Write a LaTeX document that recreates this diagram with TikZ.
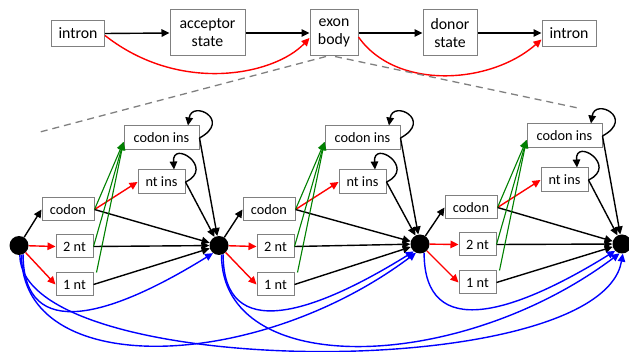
\documentclass[tikz,border=0pt]{standalone}
\usepackage{fontspec}
\setmainfont{Carlito}
\usetikzlibrary{arrows.meta,calc}
\definecolor{boxgray}{HTML}{808080}
\definecolor{dgreen}{HTML}{008000}
\definecolor{pblue}{HTML}{0000FF}
\definecolor{pred}{HTML}{FF0000}
\begin{document}
\begin{tikzpicture}[x=1pt,y=-1pt,
  topbox/.style={draw=boxgray,line width=1pt,fill=white,inner sep=0pt,align=center,
    font=\fontsize{15.8}{18}\selectfont},
  lowbox/.style={draw=boxgray,line width=1pt,fill=white,inner sep=0pt,
    minimum height=23pt,font=\fontsize{14.3}{16}\selectfont},
  dot/.style={circle,fill=black,inner sep=0pt,minimum size=19pt},
  arr/.style={line width=1.4pt,-{Triangle[length=8pt,width=7.5pt]}},
  karr/.style={arr,draw=black},
  rarr/.style={arr,draw=pred,-{Triangle[length=8pt,width=7.5pt,fill=pred]}},
  garr/.style={arr,line width=1.1pt,draw=dgreen,-{Triangle[length=8pt,width=7pt,fill=dgreen]}},
  barr/.style={arr,draw=pblue,-{Triangle[length=8pt,width=7.5pt,fill=pblue]}},
  zoomline/.style={draw=boxgray,line width=1.3pt,dash pattern=on 7pt off 5pt}
]
\useasboundingbox (0,0) rectangle (629,352);

% top row
\node[topbox,minimum width=53pt,minimum height=26pt] (iL) at (78,33.5) {intron};
\node[topbox,minimum width=75pt,minimum height=46pt] (acc) at (207.5,33) {acceptor\\state};
\node[topbox,minimum width=48pt,minimum height=46pt] (eb) at (334,33) {exon\\body};
\node[topbox,minimum width=54pt,minimum height=46pt] (don) at (450,33) {donor\\state};
\node[topbox,minimum width=54pt,minimum height=26pt] (iR) at (569,33.5) {intron};

\draw[karr] (iL.east) -- (acc.west);
\draw[karr] (acc.west -| acc.east) -- (eb.west);
\draw[karr] (eb.east) -- (don.west);
\draw[karr] (don.east) -- (iR.west |- don.east);
\draw[rarr] ([yshift=-2pt]iL.east) .. controls +(75,59) and +(-35,37) .. ([yshift=-5pt]eb.west);
\draw[rarr] ([yshift=-4pt]eb.east) .. controls +(37,53) and +(-52,45.5) .. ([yshift=-6pt]iR.west);

% zoom lines
\coordinate (zl) at (40,132);
\coordinate (zr) at (578,108);
\draw[zoomline] ([xshift=-8pt]eb.south) -- (zl);
\draw[zoomline] ([xshift=1pt]eb.south) -- (zr);

% dots
\node[dot] (d1) at (19,245.5) {};
\node[dot] (d2) at (219,245.5) {};
\node[dot] (d3) at (420,244) {};
\node[dot] (d4) at (622,244) {};

% modules
\foreach \i/\ox/\oy/\j in {1/0/0/2, 2/201/0/3, 3/403/-2/4}{
  \node[lowbox,minimum width=52pt] (c\i) at ({68+\ox},{209.5+\oy}) {codon};
  \node[lowbox,minimum width=37pt] (tw\i) at ({74.5+\ox},{246.5+\oy}) {2 nt};
  \node[lowbox,minimum width=37pt] (on\i) at ({74.5+\ox},{284.5+\oy}) {1 nt};
  \node[lowbox,minimum width=75pt,minimum height=24pt] (ci\i) at ({161.5+\ox},{138+\oy}) {codon ins};
  \node[lowbox,minimum width=47pt,minimum height=24pt] (ni\i) at ({161.5+\ox},{182+\oy}) {nt ins};

  \draw[karr] (d\i) -- (c\i.west);
  \draw[rarr] (d\i) -- (tw\i.west);
  \draw[rarr] (d\i) -- (on\i.west);
  \draw[rarr] (c\i.east) -- (ni\i.west);
  \draw[karr] (c\i.east) -- (d\j);
  \draw[karr] (tw\i.east) -- (d\j);
  \draw[karr] (on\i.east) -- (d\j);
  \draw[karr] (ci\i.east) -- (d\j);
  \draw[karr] (ni\i.east) -- (d\j);
  \draw[garr] (c\i.east) -- ([yshift=-4pt]ci\i.west);
  \draw[garr] (tw\i.east) -- ([yshift=-4pt]ci\i.west);
  \draw[garr] ([xshift=3pt]on\i.north east) -- ([yshift=-4pt]ci\i.west);
  \draw[karr] (ci\i.east) .. controls +(33,-18) and +(4,-26) .. ([xshift=26.5pt]ci\i.north);
  \draw[karr] (ni\i.east) .. controls +(30,-14) and +(-2,-30.5) .. ([xshift=12.5pt]ni\i.north);
}

% blue skip edges
\draw[barr] (d1.-65) .. controls +(0,90) and +(-100,62) .. (d2.-128);
\draw[barr] (d2.-65) .. controls +(0,90) and +(-100,62) .. (d3.-130);
\draw[barr] (d3.-65) .. controls +(0,90) and +(-100,62) .. (d4.-135);
\draw[barr] (d1.-75) .. controls +(0,125) and +(-160,120) .. (d3.-115);
\draw[barr] (d2.-75) .. controls +(0,125) and +(-160,120) .. (d4.-105);
\draw[barr] (d1.-85) .. controls +(0,125) and +(-23,131.5) .. (d4.-85);
\end{tikzpicture}
\end{document}
